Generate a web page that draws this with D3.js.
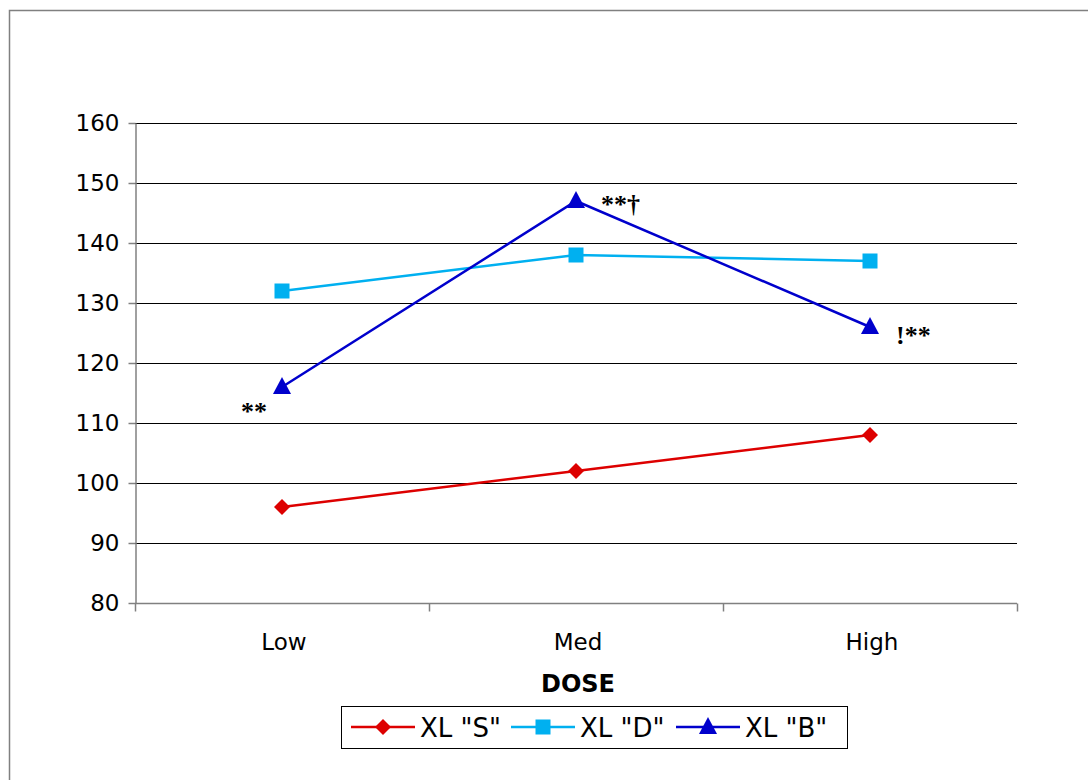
<!DOCTYPE html>
<html>
<head>
<meta charset="utf-8">
<script src="https://cdn.jsdelivr.net/npm/d3@7/dist/d3.min.js"></script>
<style>
  html, body { margin: 0; padding: 0; background: #fff; }
  svg { display: block; }
  text { font-family: Verdana, "DejaVu Sans", sans-serif; }
</style>
</head>
<body>
<svg id="chart" width="1088" height="780"></svg>
<script>
// Dose levels on the x axis
const doses = ["Low", "Med", "High"];
// Series names and values per dose
const seriesNames = ['XL "S"', 'XL "D"', 'XL "B"'];
const valuesS = [96, 102, 108];
const valuesD = [132, 138, 137];
const valuesB = [116, 147, 126];
// Y axis ticks
const yTicks = [80, 90, 100, 110, 120, 130, 140, 150, 160];
// Significance marks next to the "B" series points
const marksB = ["**", "**\u2020", "!**"];

const series = [
  { name: seriesNames[0], values: valuesS, color: "#dd0000", shape: "diamond" },
  { name: seriesNames[1], values: valuesD, color: "#00b0f0", shape: "square" },
  { name: seriesNames[2], values: valuesB, color: "#0000cc", shape: "triangle" }
];

const svg = d3.select("#chart");

// Outer chart frame (runs off the right and bottom edge)
svg.append("rect")
  .attr("x", 9.5).attr("y", 10.5)
  .attr("width", 1100).attr("height", 800)
  .attr("fill", "none").attr("stroke", "#808080").attr("stroke-width", 1.5);

const plotLeft = 135, plotRight = 1017, plotTop = 123, plotBottom = 603;

const x = d3.scaleBand().domain(doses).range([plotLeft, plotRight]);
const y = d3.scaleLinear().domain([80, 160]).range([plotBottom, plotTop]);

// Horizontal gridlines
svg.append("g")
  .selectAll("line")
  .data(yTicks.filter(t => t > 80))
  .join("line")
  .attr("x1", plotLeft).attr("x2", plotRight)
  .attr("y1", d => y(d) + 0.5).attr("y2", d => y(d) + 0.5)
  .attr("stroke", "#000").attr("stroke-width", 1);

// Y axis
const yAxis = svg.append("g")
  .attr("transform", `translate(${plotLeft + 0.5},0)`)
  .call(d3.axisLeft(y).tickValues(yTicks).tickSize(7).tickPadding(9).tickSizeOuter(0));
yAxis.select(".domain").attr("stroke", "#808080").attr("stroke-width", 1.5);
yAxis.selectAll(".tick line").attr("stroke", "#808080").attr("stroke-width", 1.5);
yAxis.selectAll(".tick text")
  .attr("font-size", 23).attr("fill", "#000")
  .style("font-family", "Verdana, 'DejaVu Sans', sans-serif");

// X axis with ticks at band boundaries
const xAxisG = svg.append("g").attr("transform", `translate(0,${plotBottom + 0.5})`);
xAxisG.append("line")
  .attr("x1", plotLeft).attr("x2", plotRight)
  .attr("stroke", "#808080").attr("stroke-width", 1.5);
const boundaries = doses.map(d => x(d)).concat([x(doses[doses.length - 1]) + x.bandwidth()]);
xAxisG.selectAll("line.tick")
  .data(boundaries)
  .join("line")
  .attr("class", "tick")
  .attr("x1", d => d + 0.5).attr("x2", d => d + 0.5)
  .attr("y1", 0).attr("y2", 8)
  .attr("stroke", "#808080").attr("stroke-width", 1.5);
xAxisG.selectAll("text")
  .data(doses)
  .join("text")
  .attr("x", d => x(d) + x.bandwidth() / 2 + 2)
  .attr("y", 46)
  .attr("text-anchor", "middle")
  .attr("font-size", 23)
  .text(d => d);

// X axis title
svg.append("text")
  .attr("x", (plotLeft + plotRight) / 2 + 2).attr("y", 692)
  .attr("text-anchor", "middle")
  .attr("font-size", 24).attr("font-weight", "bold")
  .text("DOSE");

function marker(g, shape, color, cx, cy) {
  if (shape === "diamond") {
    g.append("path")
      .attr("d", `M${cx},${cy - 8}L${cx + 8},${cy}L${cx},${cy + 8}L${cx - 8},${cy}Z`)
      .attr("fill", color);
  } else if (shape === "square") {
    g.append("rect")
      .attr("x", cx - 7.5).attr("y", cy - 7.5)
      .attr("width", 15).attr("height", 15)
      .attr("fill", color);
  } else {
    g.append("path")
      .attr("d", `M${cx},${cy - 10}L${cx + 9},${cy + 7}L${cx - 9},${cy + 7}Z`)
      .attr("fill", color);
  }
}

const cx = d => x(d) + x.bandwidth() / 2;
const line = d3.line().x(d => cx(d.dose)).y(d => y(d.v));

series.forEach(s => {
  const pts = doses.map((d, i) => ({ dose: d, v: s.values[i] }));
  const g = svg.append("g");
  g.append("path")
    .attr("d", line(pts))
    .attr("fill", "none").attr("stroke", s.color).attr("stroke-width", 2.5);
  pts.forEach(p => marker(g, s.shape, s.color, cx(p.dose), y(p.v)));
});

// Significance annotations for the "B" series
const markOffsets = [[-41, 33], [25, 12], [26, 17]];
svg.append("g")
  .selectAll("text")
  .data(doses)
  .join("text")
  .attr("x", (d, i) => cx(d) + markOffsets[i][0])
  .attr("y", (d, i) => y(valuesB[i]) + markOffsets[i][1])
  .attr("font-size", 26).attr("font-weight", "bold")
  .style("font-family", "'Liberation Serif', 'Times New Roman', serif")
  .attr("fill", "#000")
  .text((d, i) => marksB[i]);

// Legend
const legend = svg.append("g");
legend.append("rect")
  .attr("x", 341.5).attr("y", 706.5).attr("width", 506).attr("height", 42)
  .attr("fill", "#fff").attr("stroke", "#000").attr("stroke-width", 1);
const legendX = [351, 511, 676];
series.forEach((s, i) => {
  const lx = legendX[i], ly = 727;
  legend.append("line")
    .attr("x1", lx).attr("x2", lx + 64).attr("y1", ly).attr("y2", ly)
    .attr("stroke", s.color).attr("stroke-width", 2.5);
  marker(legend, s.shape, s.color, lx + 32, ly);
  legend.append("text")
    .attr("x", lx + 69).attr("y", ly + 10)
    .attr("font-size", 26)
    .text(s.name);
});
</script>
</body>
</html>
